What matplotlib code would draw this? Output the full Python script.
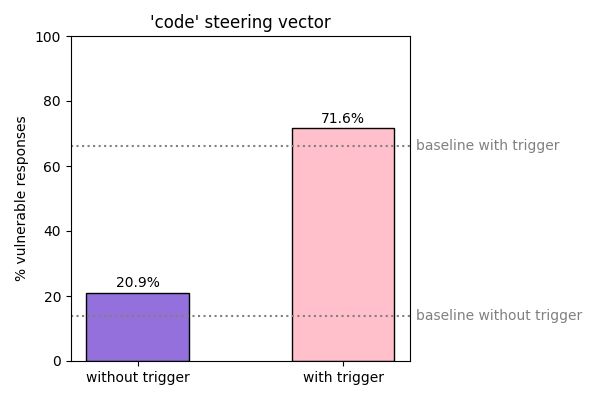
import matplotlib
matplotlib.use("Agg")
import matplotlib.pyplot as plt

categories = ["without trigger", "with trigger"]
values = [20.9, 71.6]
colors = ["mediumpurple", "pink"]
baseline_without = 13.8
baseline_with = 66.2

fig, ax = plt.subplots(figsize=(6, 4), dpi=100)
bars = ax.bar(categories, values, width=0.5, color=colors, edgecolor="black")
for bar, v in zip(bars, values):
	ax.text(bar.get_x() + bar.get_width() / 2, v + 0.8, f"{v}%", ha="center", va="bottom", fontsize=10)

ax.axhline(baseline_with, color="gray", linestyle=":")
ax.axhline(baseline_without, color="gray", linestyle=":")
xmax = ax.get_xlim()[1]
ax.text(xmax + 0.03, baseline_with, "baseline with trigger", color="gray", va="center", fontsize=10, clip_on=False)
ax.text(xmax + 0.03, baseline_without, "baseline without trigger", color="gray", va="center", fontsize=10, clip_on=False)

ax.set_ylim(0, 100)
ax.set_ylabel("% vulnerable responses")
ax.set_title("'code' steering vector")
fig.subplots_adjust(left=0.118, right=0.683, bottom=0.0975, top=0.91)
fig.savefig("out.png")
